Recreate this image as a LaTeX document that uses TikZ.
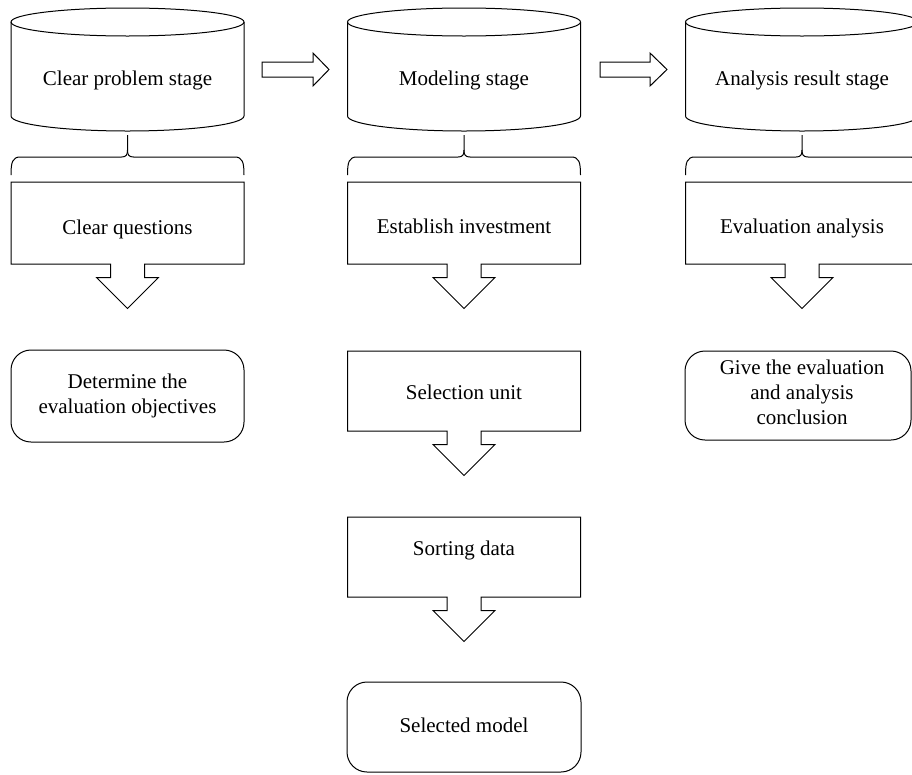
\documentclass[tikz,border=0pt]{standalone}
\usepackage{fontspec}
\setmainfont{Liberation Serif}
\newcommand{\abox}[3]{\draw[shp] (#1-116.5,-#2) -- (#1+116.5,-#2) -- (#1+116.5,-#3) -- (#1+17,-#3) -- (#1+17,-#3-13.5) -- (#1+31,-#3-13.5) -- (#1,-#3-44.5) -- (#1-31,-#3-13.5) -- (#1-17,-#3-13.5) -- (#1-17,-#3) -- (#1-116.5,-#3) -- cycle;}
\begin{document}
\begin{tikzpicture}[x=1pt,y=1pt,
  lbl/.style={font=\fontsize{21}{25}\selectfont, inner sep=0pt, align=center},
  shp/.style={draw=black, line width=1pt, line join=miter}]
\useasboundingbox (0,0) rectangle (912,-774);
\clip (0,0) rectangle (912,-774);
% stage cylinders
\foreach \c/\nm/\txt in {127.5/A/{Clear problem stage}, 464/B/{Modeling stage}, 802/C/{Analysis result stage}} {
  \draw[shp] (\c-116.5,-22) -- (\c-116.5,-116) arc[start angle=180, end angle=360, x radius=116.5pt, y radius=15pt] -- (\c+116.5,-22);
  \draw[shp] (\c,-22) ellipse[x radius=116.5pt, y radius=14pt];
  \node[lbl, anchor=base] (\nm) at (\c,-85) {\txt};
}
% braces
\foreach \c in {127.5,464,802} {
  \draw[shp] (\c-116.5,-175) .. controls (\c-116.5,-162) and (\c-115,-157) .. (\c-107,-157) -- (\c-6,-157) .. controls (\c-1.5,-157) and (\c,-155) .. (\c,-150) -- (\c,-135);
  \draw[shp] (\c,-150) .. controls (\c,-155) and (\c+1.5,-157) .. (\c+6,-157) -- (\c+107,-157) .. controls (\c+115,-157) and (\c+116.5,-162) .. (\c+116.5,-175);
}
% block arrows between stages
\draw[shp] (262,-62) -- (313,-62) -- (313,-53) -- (329,-69.5) -- (313,-86) -- (313,-77) -- (262,-77) -- cycle;
\draw[shp] (600,-62) -- (650,-62) -- (650,-53) -- (667,-69.5) -- (650,-86) -- (650,-77) -- (600,-77) -- cycle;
% arrow boxes
\abox{127.5}{182}{264}
\abox{464}{182}{264}
\abox{802}{182}{264}
\abox{464}{351}{431}
\abox{464}{517}{597}
\node[lbl, anchor=base] (Q1) at (127.5,-234) {Clear questions};
\node[lbl, anchor=base] (B1) at (464,-233) {Establish investment};
\node[lbl, anchor=base] (C1) at (802,-233) {Evaluation analysis};
\node[lbl, anchor=base] (B2) at (464,-399) {Selection unit};
\node[lbl, anchor=base] (B3) at (464,-555) {Sorting data};
% rounded result boxes
\draw[shp, rounded corners=20pt] (11,-350) rectangle (244,-442);
\draw[shp, rounded corners=20pt] (347,-682) rectangle (581,-772);
\draw[shp, rounded corners=20pt] (685,-351) rectangle (911,-440);
\node[lbl] (R1) at (127.5,-395.6) {Determine the\\evaluation objectives};
\node[lbl, anchor=base] (R2) at (464,-732) {Selected model};
\node[lbl] (R3) at (802,-392.8) {Give the evaluation\\and analysis\\conclusion};
\end{tikzpicture}
\end{document}
